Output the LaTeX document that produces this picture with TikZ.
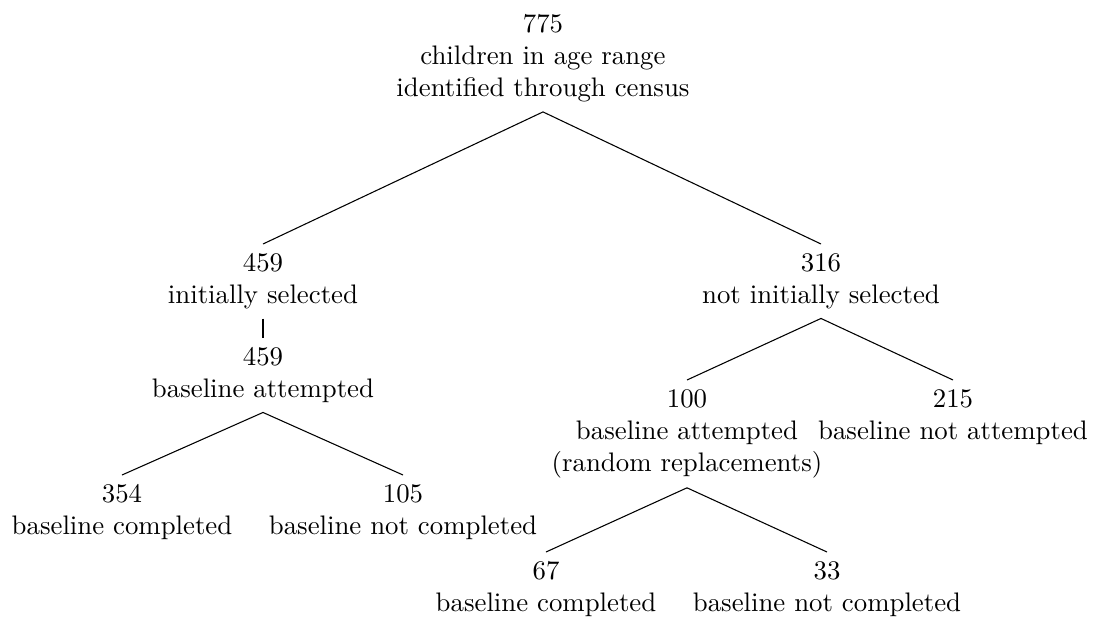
\documentclass[tikz,border=0pt]{standalone}
\begin{document}
\begin{tikzpicture}[x=0.3731pt,y=-0.3731pt,
  tn/.style={align=center,anchor=north,inner sep=3.333pt},
  edge/.style={draw=black,line width=0.4pt}]
\useasboundingbox (0,0) rectangle (1099,617);
\node[tn] (root) at (543,5) {775\\children in age range\\identified through census};
\node[tn] (sel) at (263,244) {459\\initially selected};
\node[tn] (nsel) at (821,244) {316\\not initially selected};
\node[tn] (att) at (263,338) {459\\baseline attempted};
\node[tn] (comp) at (122,475) {354\\baseline completed};
\node[tn] (ncomp) at (403,475) {105\\baseline not completed};
\node[tn] (repl) at (687,380) {100\\baseline attempted\\(random replacements)};
\node[tn] (natt) at (953,380) {215\\baseline not attempted};
\node[tn] (rcomp) at (546,552) {67\\baseline completed};
\node[tn] (rncomp) at (827,552) {33\\baseline not completed};
\draw[edge] (root.south) -- (sel.north);
\draw[edge] (root.south) -- (nsel.north);
\draw[edge] (sel.south) -- (att.north);
\draw[edge] (att.south) -- (comp.north);
\draw[edge] (att.south) -- (ncomp.north);
\draw[edge] (nsel.south) -- (repl.north);
\draw[edge] (nsel.south) -- (natt.north);
\draw[edge] (repl.south) -- (rcomp.north);
\draw[edge] (repl.south) -- (rncomp.north);
\end{tikzpicture}
\end{document}
